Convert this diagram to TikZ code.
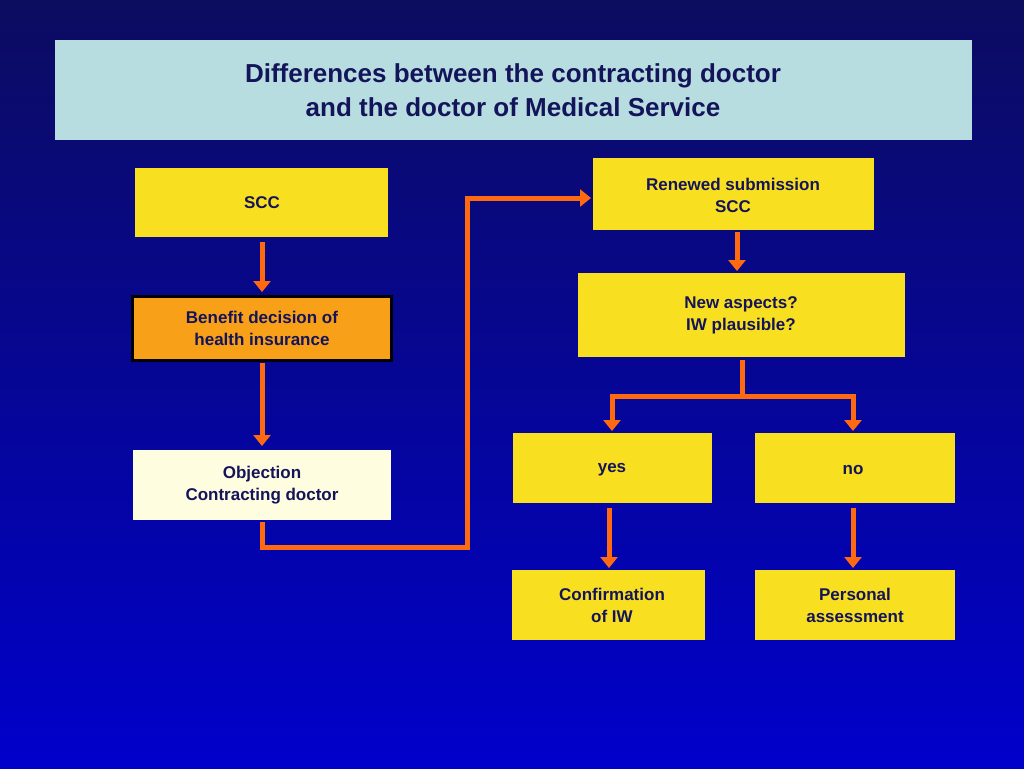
\documentclass[tikz,border=0pt]{standalone}
\usepackage{fontspec}
\setmainfont{Liberation Sans}
\usetikzlibrary{arrows.meta}
\definecolor{navy}{HTML}{14145A}
\definecolor{yel}{HTML}{F8E020}
\definecolor{org}{HTML}{F8A018}
\definecolor{cream}{HTML}{FFFDE0}
\definecolor{ttl}{HTML}{B8DDE0}
\definecolor{arr}{HTML}{FF6A10}
\definecolor{bgtop}{HTML}{0C0C60}
\definecolor{bgbot}{HTML}{0000CC}
\begin{document}
\begin{tikzpicture}[x=1pt,y=-1pt,
  box/.style={draw=none,minimum width=#1,align=center,font=\bfseries\fontsize{17}{22}\selectfont,text=navy,inner sep=0pt},
  ar/.style={draw=arr,line width=5pt,-{Triangle[length=11pt,width=17pt]}},
  ln/.style={draw=arr,line width=5pt}]
\shade[top color=bgtop,bottom color=bgbot] (0,0) rectangle (1024,768);
\useasboundingbox (0,0) rectangle (1024,768);
\fill[ttl] (55,40) rectangle (972,140);
\node[font=\bfseries\fontsize{26}{34}\selectfont,text=navy,align=center] (title) at (513,90) {Differences between the contracting doctor\\and the doctor of Medical Service};
% boxes
\fill[yel] (135,168) rectangle (388,237); \coordinate (scc) at (262,237);
\node[box=100pt] (scct) at (262,203) {SCC};
\filldraw[fill=org,draw=black,line width=3pt] (132,296) rectangle (391,360);
\node[box=100pt] (ben) at (262,328) {Benefit decision of\\health insurance};
\fill[cream] (133,450) rectangle (391,520);
\node[box=100pt] (obj) at (262,485) {Objection\\Contracting doctor};
\fill[yel] (593,158) rectangle (874,230);
\node[box=100pt] (ren) at (733,195) {Renewed submission\\SCC};
\fill[yel] (578,273) rectangle (905,357);
\node[box=100pt] (new) at (741,315) {New aspects?\\IW plausible?};
\fill[yel] (513,433) rectangle (712,503);
\node[box=100pt] (yes) at (612,470) {yes};
\fill[yel] (755,433) rectangle (955,503);
\node[box=100pt] (no) at (853,470) {no};
\fill[yel] (512,570) rectangle (705,640);
\node[box=100pt] (conf) at (612,605) {Confirmation\\of IW};
\fill[yel] (755,570) rectangle (955,640);
\node[box=100pt] (pers) at (855,605) {Personal\\assessment};
% connectors
\coordinate (a1) at (262,242); \coordinate (b1) at (262,292);
\draw[ar] (a1) -- (b1);
\coordinate (a2) at (262,363); \coordinate (b2) at (262,446);
\draw[ar] (a2) -- (b2);
\coordinate (a3) at (262,522); \coordinate (b3) at (591,198);
\draw[ar] (a3) -- (262,547) -- (467,547) -- (467,198) -- (b3);
\coordinate (a4) at (737,232); \coordinate (b4) at (737,271);
\draw[ar] (a4) -- (b4);
\coordinate (a5) at (742,360); \coordinate (j) at (742,396);
\draw[ln] (a5) -- (j);
\draw[ar] (j) -- (612,396) -- (612,431);
\draw[ar] (j) -- (853,396) -- (853,431);
\coordinate (a6) at (609,508); \coordinate (b6) at (609,568);
\draw[ar] (a6) -- (b6);
\coordinate (a7) at (853,508); \coordinate (b7) at (853,568);
\draw[ar] (a7) -- (b7);
\end{tikzpicture}
\end{document}
